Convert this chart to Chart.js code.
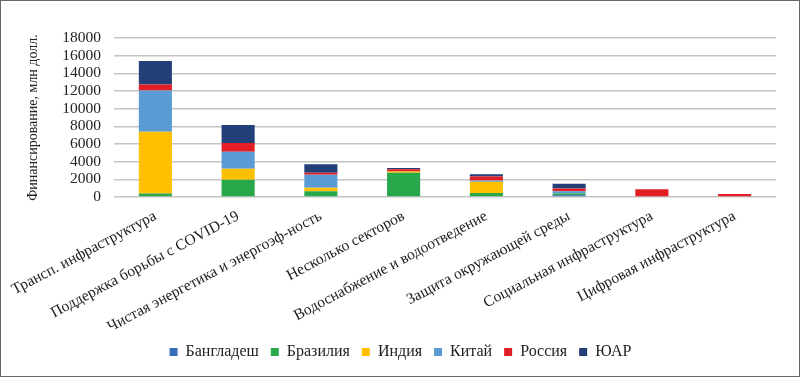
<!DOCTYPE html>
<html>
<head>
<meta charset="utf-8">
<script src="https://cdn.jsdelivr.net/npm/chart.js@4/dist/chart.umd.min.js"></script>
<style>
  html, body { margin: 0; padding: 0; background: #fff; }
  #wrap { width: 800px; height: 377px; box-sizing: border-box; border: 1px solid #666; position: relative; }
  canvas { display: block; }
</style>
</head>
<body>
<div id="wrap"><canvas id="chart" width="798" height="375"></canvas></div>
<script>
const categories = ['Трансп. инфраструктура', 'Поддержка борьбы с COVID-19', 'Чистая энергетика и энергоэф-ность',
  'Несколько секторов', 'Водоснабжение и водоотведение', 'Защита окружающей среды',
  'Социальная инфраструктура', 'Цифровая инфраструктура'];
const bangladesh = [0, 0, 0, 0, 0, 200, 0, 0];
const brazil = [400, 1950, 640, 2750, 450, 200, 0, 0];
const india = [7000, 1250, 415, 150, 1280, 0, 0, 0];
const china = [4650, 1930, 1470, 0, 150, 250, 0, 0];
const russia = [700, 980, 230, 230, 450, 300, 870, 340];
const southAfrica = [2650, 2040, 940, 150, 250, 550, 0, 0];
const yTicks = [0, 2000, 4000, 6000, 8000, 10000, 12000, 14000, 16000, 18000];

const font = "'Liberation Serif', 'Times New Roman', serif";
Chart.defaults.font.family = font;
Chart.defaults.font.size = 15;
Chart.defaults.color = '#222';

const series = [
  { label: 'Бангладеш', data: bangladesh, color: '#3a6fc0' },
  { label: 'Бразилия', data: brazil, color: '#28a84b' },
  { label: 'Индия', data: india, color: '#ffc000' },
  { label: 'Китай', data: china, color: '#5b9bd5' },
  { label: 'Россия', data: russia, color: '#e31e24' },
  { label: 'ЮАР', data: southAfrica, color: '#233f78' }
];

new Chart(document.getElementById('chart').getContext('2d'), {
  type: 'bar',
  data: {
    labels: categories,
    datasets: series.map(s => ({
      label: s.label,
      data: s.data,
      backgroundColor: s.color,
      barPercentage: 0.4,
      categoryPercentage: 1
    }))
  },
  options: {
    responsive: false,
    animation: false,
    layout: { padding: { left: 24, right: 23, top: 37, bottom: 6 } },
    plugins: {
      legend: {
        position: 'bottom',
        labels: { boxWidth: 8, boxHeight: 8, padding: 12, font: { size: 16 } }
      },
      tooltip: { enabled: false }
    },
    scales: {
      x: {
        stacked: true,
        grid: { display: false },
        border: { display: false },
        ticks: { minRotation: 28, maxRotation: 28, padding: 2, autoSkip: false, font: { size: 15.5 } },
        afterFit: scale => { scale.height = 135; }
      },
      y: {
        stacked: true,
        min: 0,
        max: 18000,
        afterBuildTicks: scale => { scale.ticks = yTicks.map(v => ({ value: v })); },
        grid: { color: '#c4c4c4', lineWidth: 1.5, drawTicks: false },
        border: { display: false },
        ticks: { padding: 13, autoSkip: false, font: { size: 15.5 }, callback: v => String(v) },
        title: { display: true, text: 'Финансирование, млн долл.', font: { size: 14 }, padding: { top: 0, bottom: 4 } },
        afterFit: scale => { scale.width = 89; }
      }
    }
  }
});
</script>
</body>
</html>
